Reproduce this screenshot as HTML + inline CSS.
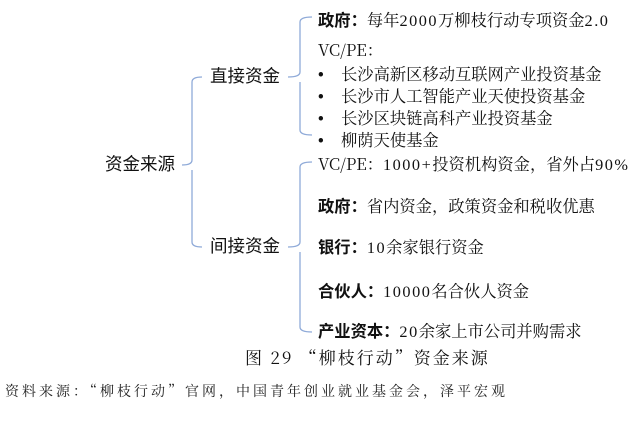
<!DOCTYPE html>
<html><head><meta charset="utf-8"><style>
html,body{margin:0;padding:0;background:#fff;}
body{width:640px;height:421px;position:relative;overflow:hidden;font-family:"Noto Serif CJK SC","Liberation Serif",serif;color:#111;}
.t{position:absolute;white-space:nowrap;font-size:16.3px;line-height:18px;}
.b{font-family:"Noto Sans CJK SC",sans-serif;font-weight:bold;}
.h{font-family:"Noto Sans CJK SC",sans-serif;font-size:17.5px;}
.d{font-family:"Liberation Sans",sans-serif;display:inline-block;width:23px;}
.n{font-family:"Liberation Serif",serif;letter-spacing:1.5px;}
</style></head><body>
<svg width="640" height="421" style="position:absolute;left:0;top:0" fill="none" stroke="#8faad8" stroke-width="1.3">
<path d="M182,165 Q192,165 192,160 L192,82 Q192,77 202,77"/>
<path d="M192,170 L192,242 Q192,247 202,247"/>
<path d="M288,77 Q300,77 300,72 L300,22 Q300,17 312,17"/>
<path d="M300,82 L300,130 Q300,135 312,135"/>
<path d="M288,247 Q300,247 300,242 L300,167 Q300,162 312,162"/>
<path d="M300,252 L300,327 Q300,332 312,332"/>
</svg>
<div class="t h" style="left:105px;top:155px">资金来源</div>
<div class="t h" style="left:210px;top:67px">直接资金</div>
<div class="t h" style="left:210px;top:237px">间接资金</div>
<div class="t" style="left:318px;top:10px"><span class="b">政府：</span>每年<span class="n">2000</span>万柳枝行动专项资金<span class="n">2.0</span></div>
<div class="t" style="left:318px;top:40px">VC/PE：</div>
<div class="t" style="left:318px;top:64px"><span class="d">•</span>长沙高新区移动互联网产业投资基金</div>
<div class="t" style="left:318px;top:86px"><span class="d">•</span>长沙市人工智能产业天使投资基金</div>
<div class="t" style="left:318px;top:108px"><span class="d">•</span>长沙区块链高科产业投资基金</div>
<div class="t" style="left:318px;top:130px"><span class="d">•</span>柳荫天使基金</div>
<div class="t" style="left:318px;top:154px">VC/PE：<span class="n">1000+</span>投资机构资金，省外占<span class="n">90%</span></div>
<div class="t" style="left:318px;top:196px"><span class="b">政府：</span>省内资金，政策资金和税收优惠</div>
<div class="t" style="left:318px;top:237px"><span class="b">银行：</span><span class="n">10</span>余家银行资金</div>
<div class="t" style="left:318px;top:281px"><span class="b">合伙人：</span><span class="n">10000</span>名合伙人资金</div>
<div class="t" style="left:318px;top:321px"><span class="b">产业资本：</span><span class="n">20</span>余家上市公司并购需求</div>
<div class="t" style="left:245px;top:348px;font-size:17px;letter-spacing:2px">图 29 “柳枝行动”资金来源</div>
<div class="t" style="left:5px;top:382px;font-size:14px;letter-spacing:3px;color:#222">资料来源：“柳枝行动”官网，中国青年创业就业基金会，泽平宏观</div>
</body></html>
